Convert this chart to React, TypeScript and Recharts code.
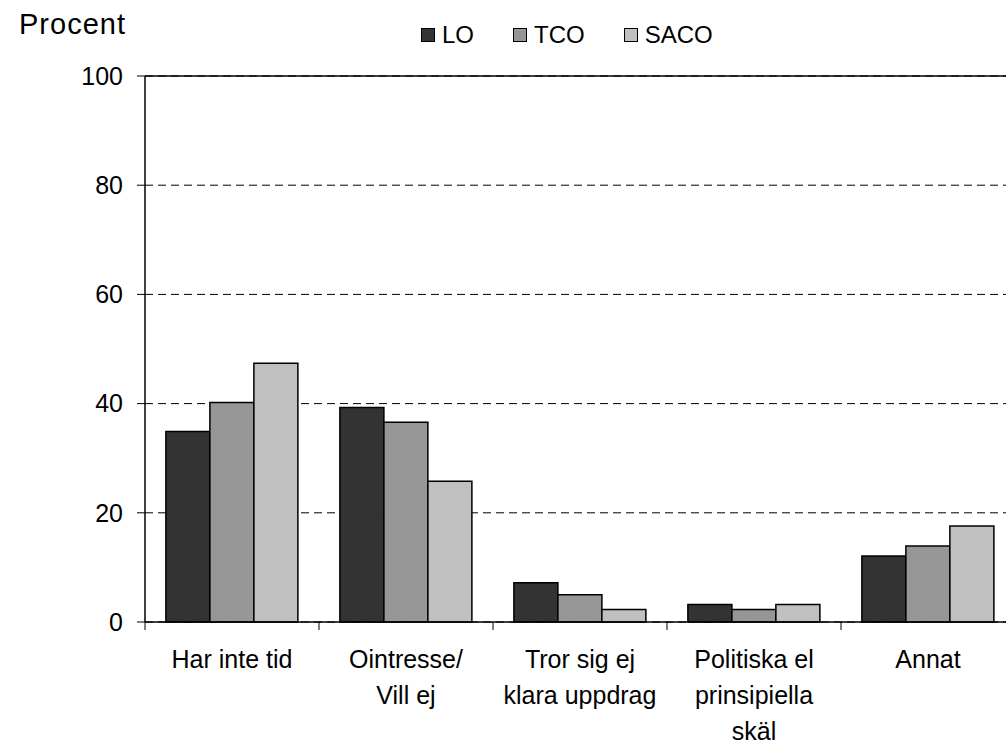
import React from 'react';
import {
  BarChart,
  Bar,
  XAxis,
  YAxis,
  CartesianGrid,
  ReferenceLine,
} from 'recharts';

const categories = [
  'Har inte tid',
  'Ointresse/\nVill ej',
  'Tror sig ej\nklara uppdrag',
  'Politiska el\nprinsipiella\nskäl',
  'Annat',
];
const seriesNames = ['LO', 'TCO', 'SACO'];
const loValues = [34.9, 39.3, 7.2, 3.2, 12.1];
const tcoValues = [40.2, 36.6, 5.0, 2.3, 13.9];
const sacoValues = [47.4, 25.8, 2.3, 3.2, 17.6];
const yTicks = [0, 20, 40, 60, 80, 100];

const colors = ['#333333', '#969696', '#c0c0c0'];
const FONT = '"Liberation Sans", Arial, sans-serif';

const CHART_W = 1030;
const CHART_H = 747;
const Y_AXIS_W = 145;
const MARGIN = { top: 76, right: 15, left: 0, bottom: 0 };
const BAND = (CHART_W - MARGIN.left - MARGIN.right - Y_AXIS_W) / categories.length;

const data = categories.map((name, i) => ({
  name,
  LO: loValues[i],
  TCO: tcoValues[i],
  SACO: sacoValues[i],
}));

const CategoryTick = (props: any) => {
  const { x, y, payload } = props;
  const lines = String(payload.value).split('\n');
  const left = x - BAND / 2;
  return (
    <g>
      <line x1={left} y1={y - 8} x2={left} y2={y} stroke="#000" strokeWidth={1} />
      <text textAnchor="middle" fontFamily={FONT} fontSize={25} fill="#000">
        {lines.map((l, i) => (
          <tspan key={i} x={x} y={y + 38 + i * 36}>
            {l}
          </tspan>
        ))}
      </text>
    </g>
  );
};

export default function App() {
  return (
    <div
      style={{
        position: 'fixed',
        left: 0,
        top: 0,
        width: 1006,
        height: 747,
        overflow: 'hidden',
        background: '#fff',
        fontFamily: FONT,
      }}
    >
      <div
        style={{
          position: 'absolute',
          left: 19,
          top: 8,
          fontSize: 29,
          letterSpacing: 1,
          color: '#000',
        }}
      >
        Procent
      </div>
      <div
        style={{
          position: 'absolute',
          left: 421,
          top: 21,
          display: 'flex',
          fontSize: 24,
          color: '#000',
        }}
      >
        {seriesNames.map((s, i) => (
          <div key={s} style={{ display: 'flex', alignItems: 'center', marginRight: 39 }}>
            <span
              style={{
                width: 12,
                height: 12,
                background: colors[i],
                border: '1.5px solid #000',
                marginRight: 7,
                display: 'inline-block',
              }}
            />
            <span>{s}</span>
          </div>
        ))}
      </div>
      <BarChart
        width={CHART_W}
        height={CHART_H}
        data={data}
        margin={MARGIN}
        barCategoryGap="12%"
        barGap={0}
      >
        <CartesianGrid
          vertical={false}
          stroke="#000"
          strokeDasharray="8 5"
          strokeWidth={1}
        />
        <ReferenceLine y={100} stroke="#000" strokeWidth={1.5} />
        <XAxis
          dataKey="name"
          height={CHART_H - 622}
          axisLine={{ stroke: '#000', strokeWidth: 1.5 }}
          tickLine={false}
          tickSize={8}
          tickMargin={0}
          interval={0}
          tick={<CategoryTick />}
        />
        <YAxis
          width={Y_AXIS_W}
          domain={[0, 100]}
          ticks={yTicks}
          axisLine={{ stroke: '#000', strokeWidth: 1.5 }}
          tickLine={{ stroke: '#000' }}
          tickSize={8}
          tickMargin={14}
          tick={{ fill: '#000', fontSize: 25, fontFamily: FONT }}
        />
        {seriesNames.map((s, i) => (
          <Bar
            key={s}
            dataKey={s}
            fill={colors[i]}
            stroke="#000"
            strokeWidth={1.5}
            isAnimationActive={false}
          />
        ))}
      </BarChart>
    </div>
  );
}
